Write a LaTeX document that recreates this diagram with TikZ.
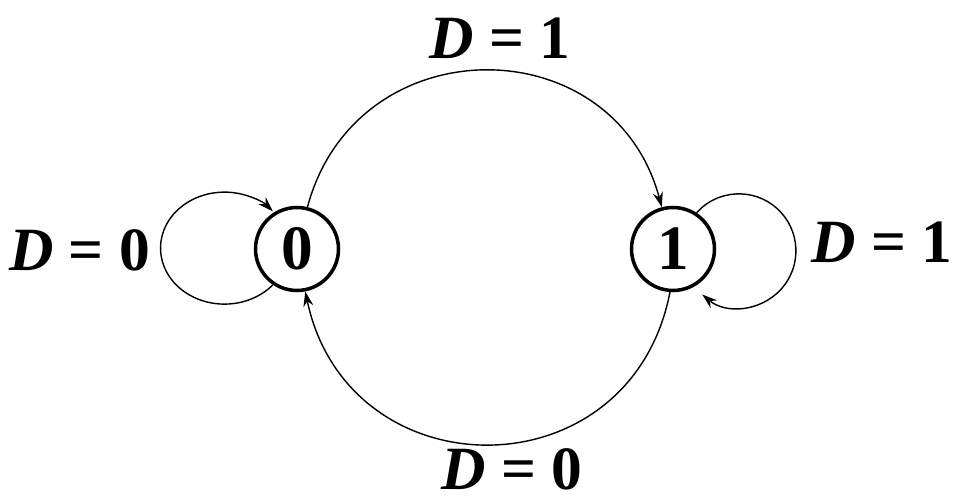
\documentclass[tikz,border=0pt]{standalone}
\usepackage{fontspec}
\setmainfont{Liberation Serif}
\usepackage{tikz}
\usetikzlibrary{arrows.meta,positioning}
\tikzset{
  state/.style={circle,draw=black,line width=2pt,minimum size=16.6mm,
                font=\fontsize{36}{40}\selectfont\bfseries,inner sep=0pt},
  tran/.style={-{Stealth[length=3mm,width=2mm]},line width=0.8pt,black},
  cond/.style={font=\fontsize{35}{40}\selectfont\bfseries,inner sep=0pt},
}

\begin{document}
\begin{tikzpicture}[>=Stealth]
  \useasboundingbox (-5.94,-5.02) rectangle (13.16,4.98);
  \node[state] (S0) at (0,0) {0};
  \node[state] (S1) at (7.52,0) {1};
  \draw[tran] (S0.76) to[out=75,in=105,looseness=1.36] (S1.105);
  \draw[tran] (S1.-94) to[out=-101,in=-78,looseness=1.45] (S0.-79);
  \draw[tran] (S0.-124) arc[start angle=-41,end angle=-319,x radius=1.28cm,y radius=1.12cm];
  \draw[tran] (S1.57) arc[start angle=138,end angle=-130,radius=1.14cm];
  \node[cond] (c00) at (-4.35,-0.02) {\textit{D} = 0};
  \node[cond] (c01) at (4.06,4.22) {\textit{D} = 1};
  \node[cond] (c11) at (11.7,0.14) {\textit{D} = 1};
  \node[cond] (c10) at (4.3,-4.4) {\textit{D} = 0};
\end{tikzpicture}
\end{document}
